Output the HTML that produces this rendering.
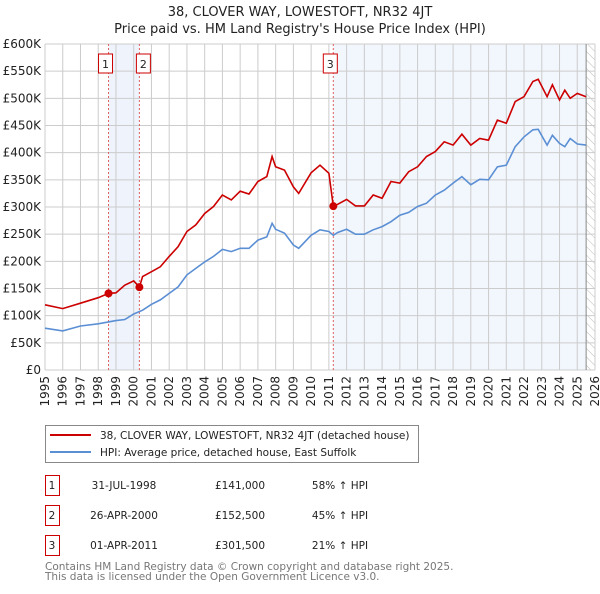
<!DOCTYPE html>
<html><head><meta charset="utf-8"><style>
body{margin:0;background:#fff;width:600px;height:590px;overflow:hidden;font-family:"DejaVu Sans","Liberation Sans",sans-serif}
svg text{font-family:"DejaVu Sans","Liberation Sans",sans-serif}
</style></head><body>
<svg id="c" width="600" height="590">
<text x="300" y="16" text-anchor="middle" font-size="13" fill="#222">38, CLOVER WAY, LOWESTOFT, NR32 4JT</text>
<text x="300" y="33" text-anchor="middle" font-size="13" fill="#222">Price paid vs. HM Land Registry's House Price Index (HPI)</text>
<g id="plot"></g>
<g>
<rect x="45.5" y="425.5" width="373" height="37" fill="#fff" stroke="#888"/>
<line x1="50" y1="435" x2="91" y2="435" stroke="#cc0000" stroke-width="2"/>
<text x="100" y="439" font-size="10.5" fill="#222">38, CLOVER WAY, LOWESTOFT, NR32 4JT (detached house)</text>
<line x1="50" y1="452" x2="91" y2="452" stroke="#5b8fd4" stroke-width="2"/>
<text x="100" y="456" font-size="10.5" fill="#222">HPI: Average price, detached house, East Suffolk</text>
</g>
<g id="tbl" fill="#222"></g>
<text x="45" y="570" font-size="10.5" fill="#777">Contains HM Land Registry data © Crown copyright and database right 2025.</text>
<text x="45" y="580" font-size="10.5" fill="#777">This data is licensed under the Open Government Licence v3.0.</text>
</svg>
<script>
const hpiYears=[1995,1996,1997,1998,1998.5,1999,1999.5,2000,2000.5,2001,2001.5,2002,2002.5,2003,2003.5,2004,2004.5,2005,2005.5,2006,2006.5,2007,2007.5,2007.8,2008,2008.5,2009,2009.3,2010,2010.5,2011,2011.25,2011.5,2012,2012.5,2013,2013.5,2014,2014.5,2015,2015.5,2016,2016.5,2017,2017.5,2018,2018.5,2019,2019.5,2020,2020.5,2021,2021.5,2022,2022.5,2022.8,2023.3,2023.6,2024,2024.3,2024.6,2025,2025.5];
const hpiValues=[77,72,81,85,88,91,93,103,110,121,129,141,153,175,187,199,209,222,218,224,224,239,245,270,259,252,230,224,248,258,255,248,253,259,250,250,258,264,273,285,290,301,307,322,331,344,356,341,351,350,374,377,411,429,442,443,414,432,417,411,426,416,414];
const priceYears=[1995,1996,1997,1998,1998.58,1999,1999.5,2000,2000.32,2000.5,2001,2001.5,2002,2002.5,2003,2003.5,2004,2004.5,2005,2005.5,2006,2006.5,2007,2007.5,2007.8,2008,2008.5,2009,2009.3,2010,2010.5,2011,2011.25,2011.5,2012,2012.5,2013,2013.5,2014,2014.5,2015,2015.5,2016,2016.5,2017,2017.5,2018,2018.5,2019,2019.5,2020,2020.5,2021,2021.5,2022,2022.5,2022.8,2023.3,2023.6,2024,2024.3,2024.6,2025,2025.5];
const priceValues=[120,113,123,133,141,142,156,164,152.5,172,181,190,209,227,255,267,288,301,322,313,329,324,347,356,393,374,368,337,325,363,377,362,301.5,305,314,302,302,322,316,347,344,365,374,393,402,420,414,434,414,426,423,460,454,494,503,531,535,503,525,497,515,500,509,503];
const saleLabels=["1","2","3"];
const saleYears=[1998.58,2000.32,2011.25];
const salePrices=[141,152.5,301.5];
const saleDates=["31-JUL-1998","26-APR-2000","01-APR-2011"];
const salePriceText=["£141,000","£152,500","£301,500"];
const salePct=["58% ↑ HPI","45% ↑ HPI","21% ↑ HPI"];
const yTicks=[0,50,100,150,200,250,300,350,400,450,500,550,600];
const xTicks=[1995,1996,1997,1998,1999,2000,2001,2002,2003,2004,2005,2006,2007,2008,2009,2010,2011,2012,2013,2014,2015,2016,2017,2018,2019,2020,2021,2022,2023,2024,2025,2026];

const NS="http://www.w3.org/2000/svg";
const L=45,R=595,T=44,B=370;
const xs=y=>L+(y-1995)/(2026-1995)*(R-L);
const ys=v=>B-v/600*(B-T);
const g=document.getElementById('plot');
function mk(tag,at,parent){const e=document.createElementNS(NS,tag);for(const k in at)e.setAttribute(k,at[k]);(parent||g).appendChild(e);return e;}

let r;
r=mk('rect',{x:xs(saleYears[0]),y:T,width:xs(saleYears[1])-xs(saleYears[0]),height:B-T,fill:'#eef3fc'});


r=mk('rect',{x:xs(saleYears[2]),y:T,width:xs(2025.5)-xs(saleYears[2]),height:B-T,fill:'#f2f6fd'});


const defs=mk('defs',{});
const pat=mk('pattern',{id:'h',width:6,height:6,patternUnits:'userSpaceOnUse',patternTransform:'rotate(-45)'},defs);
mk('line',{x1:0,y1:0,x2:0,y2:6,stroke:'#bbb','stroke-width':1},pat);
r=mk('rect',{x:xs(2025.5),y:T,width:R-xs(2025.5),height:B-T,fill:'url(#h)'});



yTicks.forEach(v=>{
 const ln=mk('line',{x1:L,x2:R,y1:ys(v),y2:ys(v),stroke:'#ccc'});
 
 
 const t=mk('text',{x:L-4,y:ys(v)+4,'text-anchor':'end','font-size':12,fill:'#222'});
 t.textContent=v===0?'£0':'£'+v+'K';
 
 
});
xTicks.forEach(y=>{
 const ln=mk('line',{x1:xs(y),x2:xs(y),y1:T,y2:B,stroke:'#ccc'});
 
 
 const t=mk('text',{x:0,y:0,'text-anchor':'end','font-size':12,fill:'#222',transform:`translate(${xs(y)+4},${B+6}) rotate(-90)`});
 t.textContent=y;
 
 
});
r=mk('line',{x1:xs(2025.5),x2:xs(2025.5),y1:T,y2:B,stroke:'#888'});



saleYears.forEach((y,i)=>{
 const ln=mk('line',{x1:xs(y),x2:xs(y),y1:T,y2:B,stroke:'#e06060','stroke-dasharray':'2,2'});
 
 
 const bx=mk('rect',{x:xs(y)-(i==2?10:i==0?10:3),y:54,width:14,height:19,fill:'#fff',stroke:'#c00'});
 
 
 const t=mk('text',{x:xs(y)-(i==2?3:i==0?3:-4),y:68,'text-anchor':'middle','font-size':11,fill:'#222'});
 t.textContent=saleLabels[i];
 
 
});

const pl=(xa,va)=>xa.map((x,i)=>xs(x).toFixed(1)+','+ys(va[i]).toFixed(1)).join(' ');
r=mk('polyline',{points:pl(hpiYears,hpiValues),fill:'none',stroke:'#5b8fd4','stroke-width':1.6});


r=mk('polyline',{points:pl(priceYears,priceValues),fill:'none',stroke:'#cc0000','stroke-width':1.6});


saleYears.forEach((y,i)=>{
 const c=mk('circle',{cx:xs(y),cy:ys(salePrices[i]),r:4,fill:'#cc0000'});
 
 
});

const tb=document.getElementById('tbl');
saleLabels.forEach((s,i)=>{
 const y0=475+i*30;
 const b=mk('rect',{x:45.5,y:y0+0.5,width:14,height:20,fill:'#fff',stroke:'#c00'},tb);
 
 
 const cells=[[52,s,'middle'],[124,saleDates[i],'middle'],[240,salePriceText[i],'middle'],[340,salePct[i],'middle']];
 cells.forEach(c=>{
  const t=mk('text',{x:c[0],y:y0+14,'text-anchor':c[2],'font-size':10.5,fill:'#222'},tb);
  t.textContent=c[1];
  
  
 });
});
</script>
</body></html>
